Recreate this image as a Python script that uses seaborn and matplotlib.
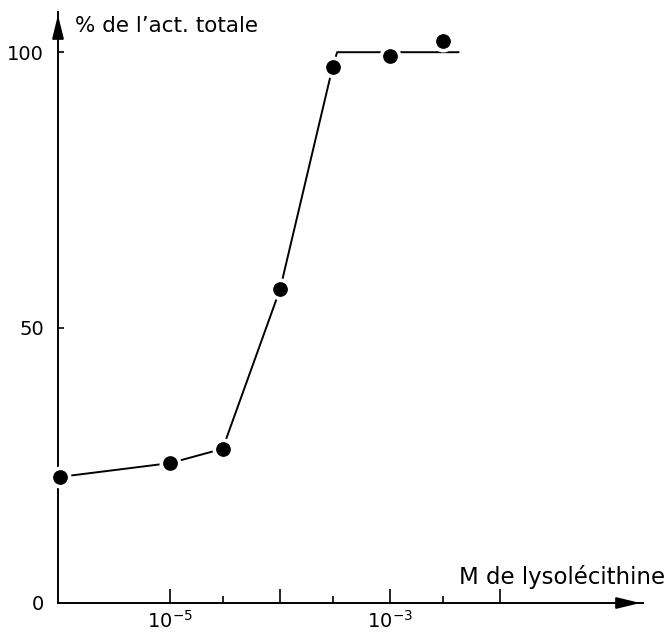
import numpy as np
import pandas as pd
import matplotlib
matplotlib.use("Agg")
import matplotlib.pyplot as plt
import seaborn as sns
from matplotlib.ticker import FixedLocator, NullFormatter

# Measured activity (% of total) versus lysolecithin concentration (M)
conc = [1e-6, 1e-5, 3e-5, 1e-4, 3e-4, 1e-3, 3e-3]
activity = [22.9, 25.4, 28.0, 57.0, 97.3, 99.3, 102.0]

# Hand-fitted curve: rising segment, then a plateau at 100 %
fit_conc = [1e-6, 1e-5, 3e-5, 1e-4, 3e-4, 3.3e-4, 4.2e-3]
fit_activity = [22.9, 25.4, 28.0, 57.0, 97.3, 100.0, 100.0]

major_x = [1e-5, 1e-4, 1e-3, 1e-2]
major_x_labels = ["10$^{-5}$", "", "10$^{-3}$", ""]
minor_x = [3e-5, 3e-4, 3e-3]
y_ticks = [0, 50, 100]
y_tick_labels = ["0", "50", "100"]

sns.set_style("ticks", {"axes.edgecolor": "black", "text.color": "black",
                        "xtick.color": "black", "ytick.color": "black"})
plt.rcParams["font.family"] = ["DejaVu Sans"]

fig = plt.figure(figsize=(6.68, 6.33), dpi=100)
ax = fig.add_axes([58 / 668, 30 / 633, 585 / 668, 591 / 633])

pts = pd.DataFrame({"conc": conc, "activity": activity})
fit = pd.DataFrame({"conc": fit_conc, "activity": fit_activity})

sns.lineplot(data=fit, x="conc", y="activity", ax=ax, color="black",
             linewidth=1.4, sort=False, estimator=None, clip_on=False)
sns.scatterplot(data=pts, x="conc", y="activity", ax=ax, color="black",
                s=175, edgecolor="white", linewidth=2.6, zorder=5,
                clip_on=False)

ax.set_xscale("log")
ax.set_xlim(10 ** -6.02, 10 ** -0.70)
ax.set_ylim(0, 107.3)

ax.xaxis.set_major_locator(FixedLocator(major_x))
ax.set_xticklabels(major_x_labels)
ax.xaxis.set_minor_locator(FixedLocator(minor_x))
ax.xaxis.set_minor_formatter(NullFormatter())
ax.set_yticks(y_ticks)
ax.set_yticklabels(y_tick_labels)

ax.tick_params(axis="x", which="major", direction="in", length=10,
               width=1.2, pad=5, labelsize=14, colors="black")
ax.tick_params(axis="x", which="minor", direction="in", length=5, width=1.2,
               colors="black")
ax.tick_params(axis="y", which="major", direction="in", length=4,
               width=1.2, pad=10, labelsize=14, colors="black")

ax.set_xlabel("")
ax.set_ylabel("")
sns.despine(ax=ax)
for side in ("left", "bottom"):
    ax.spines[side].set_linewidth(1.4)
    ax.spines[side].set_color("black")

# Arrowheads on both axes
ax.annotate("", xy=(1.0, 0.0), xytext=(0.95, 0.0), xycoords="axes fraction",
            arrowprops=dict(arrowstyle="-|>,head_length=0.9,head_width=0.22",
                            color="black", lw=1.4, mutation_scale=16))
ax.annotate("", xy=(0.0, 1.0), xytext=(0.0, 0.95), xycoords="axes fraction",
            arrowprops=dict(arrowstyle="-|>,head_length=0.9,head_width=0.22",
                            color="black", lw=1.4, mutation_scale=16))

fig.text(75 / 668, 1 - 26 / 633, "% de l\u2019act. totale", fontsize=15.5,
         ha="left", va="center", color="black")
fig.text(665 / 668, 1 - 584 / 633, "M de lysolécithine", fontsize=16.5,
         ha="right", va="baseline", color="black")

fig.savefig("out.png", dpi=100)
